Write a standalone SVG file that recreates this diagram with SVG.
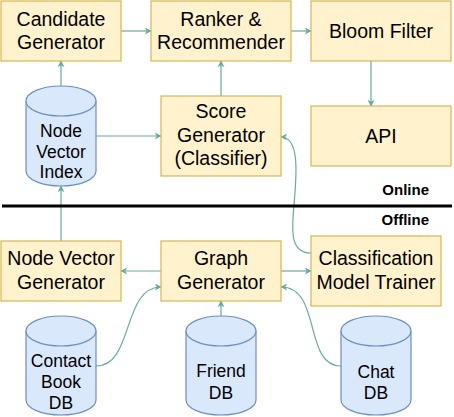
<svg xmlns="http://www.w3.org/2000/svg" width="454" height="417" viewBox="0 0 454 417">
<defs>
<style>
.box{fill:#fff2cc;stroke:#d6b656;stroke-width:1.2}
.cyl{fill:#dae8fc;stroke:#6c8ebf;stroke-width:1.2}
.t{font-family:"Liberation Sans",Arial,sans-serif;font-size:19.5px;fill:#000;text-anchor:middle}
.tc{font-family:"Liberation Sans",Arial,sans-serif;font-size:17.5px;fill:#000;text-anchor:middle}
.lbl{font-family:"Liberation Sans",Arial,sans-serif;font-size:15px;font-weight:bold;fill:#000;text-anchor:end}
.e{fill:none;stroke:#67ab9f;stroke-width:1.2;marker-end:url(#ah)}
</style>
<marker id="ah" viewBox="0 0 10 10" refX="9" refY="5" markerWidth="7" markerHeight="7" markerUnits="userSpaceOnUse" orient="auto">
<path d="M0,0 L10,5 L0,10 L3,5 Z" fill="#67ab9f"/>
</marker>
</defs>
<rect width="454" height="417" fill="#fff"/>
<g id="connectors">
<path class="e" d="M121,31 H151"/>
<path class="e" d="M291,31 H311"/>
<path class="e" d="M371,61 V106"/>
<path class="e" d="M221,96 V61"/>
<path class="e" d="M61,86 V61"/>
<path class="e" d="M96,136 H161"/>
<path class="e" d="M61,241 V186"/>
<path class="e" d="M161,271 H121"/>
<path class="e" d="M281,271 H311"/>
<path class="e" d="M311,253 C289,253 292,228 294,205 C296,180 301,137 281,137"/>
<path class="e" d="M96,366 C134,366 122,287 161,287"/>
<path class="e" d="M221,316 V301"/>
<path class="e" d="M341,366 C303,366 322,287 281,287"/>
</g>
<g id="divider">
<line x1="2" y1="206" x2="452" y2="206" stroke="#000" stroke-width="3"/>
<text class="lbl" x="429" y="195">Online</text>
<text class="lbl" x="429" y="225">Offline</text>
</g>
<g id="candidate-generator">
<rect class="box" x="1" y="1" width="120" height="60"/>
<text class="t" x="61" y="26">Candidate</text>
<text class="t" x="61" y="49">Generator</text>
</g>
<g id="ranker">
<rect class="box" x="151" y="1" width="140" height="60"/>
<text class="t" x="221" y="26">Ranker &amp;</text>
<text class="t" x="221" y="49">Recommender</text>
</g>
<g id="bloom-filter">
<rect class="box" x="311" y="1" width="140" height="60"/>
<text class="t" x="381" y="38">Bloom Filter</text>
</g>
<g id="api">
<rect class="box" x="311" y="106" width="140" height="60"/>
<text class="t" x="381" y="143">API</text>
</g>
<g id="score-generator">
<rect class="box" x="161" y="96" width="120" height="80"/>
<text class="t" x="221" y="118">Score</text>
<text class="t" x="221" y="141.5">Generator</text>
<text class="t" x="221" y="165">(Classifier)</text>
</g>
<g id="node-vector-index">
<path class="cyl" d="M26,101 A35,15 0 0 1 96,101 V171 A35,15 0 0 1 26,171 Z"/>
<path class="cyl" d="M26,101 A35,15 0 0 0 96,101" fill="none"/>
<text class="tc" x="61" y="137">Node</text>
<text class="tc" x="61" y="158">Vector</text>
<text class="tc" x="61" y="178">Index</text>
</g>
<g id="node-vector-generator">
<rect class="box" x="1" y="241" width="120" height="60"/>
<text class="t" x="61" y="265">Node Vector</text>
<text class="t" x="61" y="289">Generator</text>
</g>
<g id="graph-generator">
<rect class="box" x="161" y="241" width="120" height="60"/>
<text class="t" x="221" y="265">Graph</text>
<text class="t" x="221" y="289">Generator</text>
</g>
<g id="classification-model-trainer">
<rect class="box" x="311" y="236" width="130" height="70"/>
<text class="t" x="376" y="265">Classification</text>
<text class="t" x="376" y="289">Model Trainer</text>
</g>
<g id="contact-book-db">
<path class="cyl" d="M26,331 A35,15 0 0 1 96,331 V400 A35,15 0 0 1 26,400 Z"/>
<path class="cyl" d="M26,331 A35,15 0 0 0 96,331" fill="none"/>
<text class="tc" x="61" y="367">Contact</text>
<text class="tc" x="61" y="388">Book</text>
<text class="tc" x="61" y="408.5">DB</text>
</g>
<g id="friend-db">
<path class="cyl" d="M186,331 A35,15 0 0 1 256,331 V400 A35,15 0 0 1 186,400 Z"/>
<path class="cyl" d="M186,331 A35,15 0 0 0 256,331" fill="none"/>
<text class="tc" x="221" y="377">Friend</text>
<text class="tc" x="221" y="398.5">DB</text>
</g>
<g id="chat-db">
<path class="cyl" d="M341,331 A35,15 0 0 1 411,331 V400 A35,15 0 0 1 341,400 Z"/>
<path class="cyl" d="M341,331 A35,15 0 0 0 411,331" fill="none"/>
<text class="tc" x="376" y="378">Chat</text>
<text class="tc" x="376" y="398.5">DB</text>
</g>
</svg>
